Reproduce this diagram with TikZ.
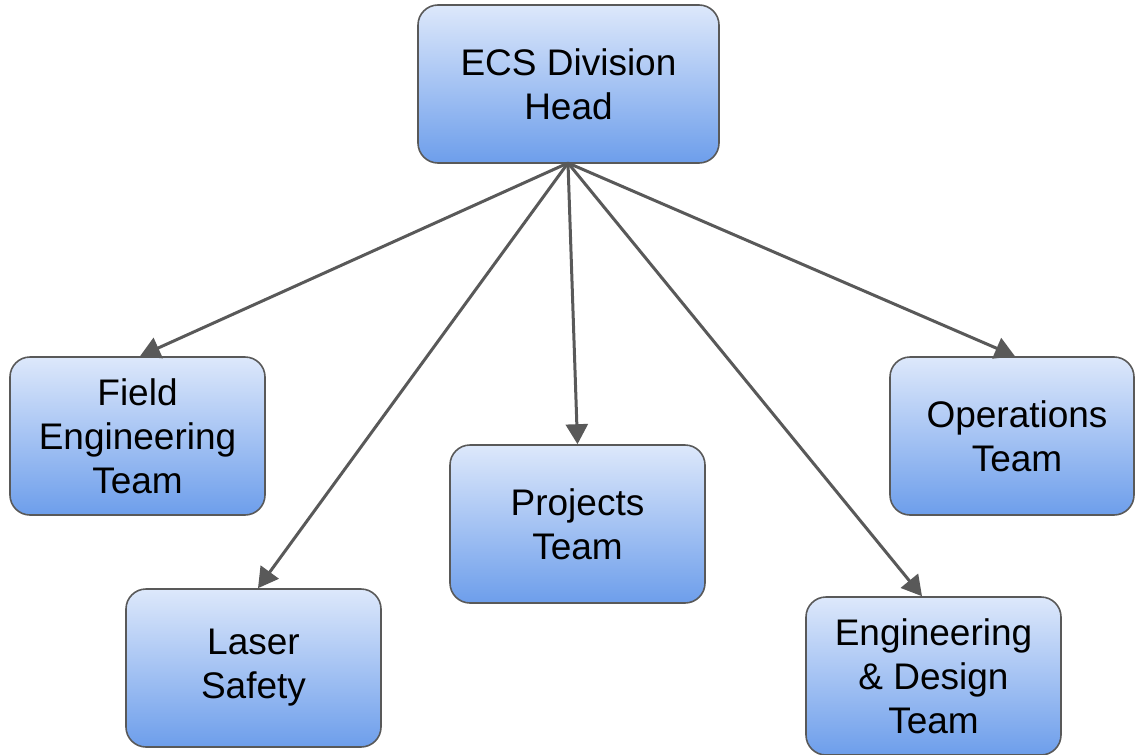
\documentclass[tikz,border=0pt]{standalone}
\usepackage{fontspec}
\setmainfont{Liberation Sans}
\usetikzlibrary{arrows.meta}
\definecolor{edge}{HTML}{595959}
\definecolor{topc}{HTML}{DDE8FB}
\definecolor{botc}{HTML}{6D9EEB}
\tikzset{
  box/.style={draw=edge, line width=1.6pt, rounded corners=20pt, top color=topc, bottom color=botc,
    minimum height=158pt, align=center, font=\fontsize{37}{44}\selectfont, inner sep=0pt},
  link/.style={draw=edge, line width=3pt, -{Triangle[length=20pt,width=22pt]}, shorten >=0pt}
}
\begin{document}
\begin{tikzpicture}[x=1pt,y=-1pt]
\useasboundingbox (0,0) rectangle (1136,755);
\node[box, minimum width=301pt] (head) at (568.5,84) {ECS Division\\Head};
\node[box, minimum width=255pt] (field) at (137.5,436) {Field\\Engineering\\Team};
\node[box, minimum width=255pt] (laser) at (253.5,668) {Laser\\Safety};
\node[box, minimum width=255pt] (proj) at (577.5,524) {Projects\\Team};
\node[box, minimum width=244pt] (ops) at (1012,436) {\hspace*{10pt}Operations\\\hspace*{10pt}Team};
\node[box, minimum width=255pt] (eng) at (933.5,676) {Engineering\\\& Design\\Team};
\coordinate (src) at (568,163);
\draw[link] (src) -- (field.north -| 140,0);
\draw[link] (src) -- (laser.north -| 258,0);
\draw[link] (src) -- (proj.north);
\draw[link] (src) -- (ops.north -| 1015,0);
\draw[link] (src) -- (eng.north -| 922,0);
\end{tikzpicture}
\end{document}
